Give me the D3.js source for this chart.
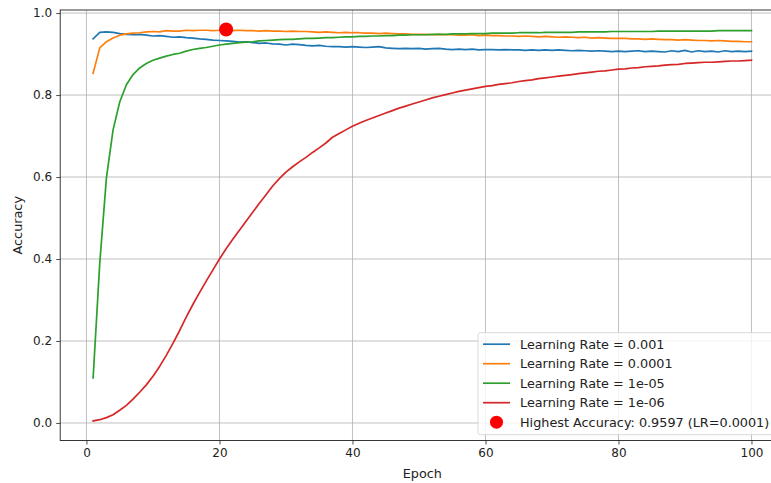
<!DOCTYPE html>
<html>
<head>
<meta charset="utf-8">
<script src="https://cdn.jsdelivr.net/npm/d3@7"></script>
<style>
    body { margin: 0; background: #fff; }
    text { font-family: "DejaVu Sans", sans-serif; }
</style>
</head>
<body>
<script>

// accuracy per epoch (1..100), one array per learning rate
const lr1e3 = [
    0.937, 0.953, 0.954, 0.953, 0.950, 0.948, 0.947, 0.948, 0.946, 0.944,
    0.945, 0.943, 0.941, 0.942, 0.940, 0.939, 0.937, 0.936, 0.934, 0.933,
    0.932, 0.931, 0.929, 0.930, 0.928, 0.926, 0.927, 0.925, 0.924, 0.922,
    0.924, 0.923, 0.921, 0.920, 0.921, 0.919, 0.918, 0.918, 0.917, 0.918,
    0.917, 0.916, 0.917, 0.918, 0.915, 0.914, 0.913, 0.914, 0.913, 0.914,
    0.912, 0.913, 0.914, 0.912, 0.911, 0.912, 0.911, 0.912, 0.910, 0.911,
    0.911, 0.910, 0.911, 0.910, 0.910, 0.909, 0.910, 0.909, 0.910, 0.909,
    0.910, 0.909, 0.908, 0.909, 0.908, 0.907, 0.908, 0.907, 0.906, 0.907,
    0.906, 0.907, 0.908, 0.906, 0.907, 0.906, 0.905, 0.908, 0.906, 0.909,
    0.905, 0.908, 0.906, 0.907, 0.905, 0.908, 0.906, 0.907, 0.906, 0.907
];

const lr1e4 = [
    0.853, 0.915, 0.930, 0.939, 0.946, 0.949, 0.951, 0.952, 0.954, 0.955,
    0.954, 0.957, 0.956, 0.956, 0.958, 0.957, 0.958, 0.958, 0.957, 0.958,
    0.9597, 0.957, 0.958, 0.957, 0.957, 0.956, 0.957, 0.956, 0.956, 0.955,
    0.956, 0.955, 0.955, 0.954, 0.953, 0.954, 0.953, 0.952, 0.953, 0.952,
    0.952, 0.951, 0.951, 0.950, 0.951, 0.950, 0.949, 0.949, 0.948, 0.948,
    0.948, 0.947, 0.948, 0.947, 0.947, 0.946, 0.946, 0.947, 0.945, 0.946,
    0.945, 0.945, 0.944, 0.944, 0.943, 0.944, 0.943, 0.942, 0.943, 0.942,
    0.941, 0.942, 0.941, 0.940, 0.941, 0.939, 0.940, 0.939, 0.938, 0.938,
    0.938, 0.937, 0.937, 0.936, 0.937, 0.936, 0.935, 0.935, 0.934, 0.935,
    0.934, 0.933, 0.933, 0.932, 0.933, 0.932, 0.931, 0.931, 0.930, 0.930
];

const lr1e5 = [
    0.110, 0.390, 0.598, 0.715, 0.783, 0.825, 0.850, 0.866, 0.877, 0.885,
    0.890, 0.895, 0.899, 0.902, 0.907, 0.911, 0.914, 0.916, 0.919, 0.922,
    0.924, 0.926, 0.928, 0.929, 0.930, 0.932, 0.933, 0.934, 0.935, 0.936,
    0.936, 0.937, 0.938, 0.938, 0.939, 0.940, 0.940, 0.941, 0.942, 0.942,
    0.943, 0.943, 0.944, 0.944, 0.945, 0.945, 0.946, 0.946, 0.947, 0.947,
    0.947, 0.948, 0.948, 0.948, 0.949, 0.949, 0.949, 0.950, 0.950, 0.950,
    0.951, 0.951, 0.951, 0.951, 0.952, 0.952, 0.952, 0.952, 0.953, 0.953,
    0.953, 0.953, 0.953, 0.954, 0.954, 0.954, 0.954, 0.954, 0.955, 0.955,
    0.955, 0.955, 0.955, 0.955, 0.955, 0.956, 0.956, 0.956, 0.956, 0.956,
    0.956, 0.956, 0.956, 0.956, 0.957, 0.957, 0.957, 0.957, 0.957, 0.957
];

const lr1e6 = [
    0.005, 0.008, 0.013, 0.020, 0.031, 0.043, 0.058, 0.075, 0.093, 0.114,
    0.138, 0.165, 0.194, 0.225, 0.258, 0.289, 0.318, 0.346, 0.373, 0.400,
    0.425, 0.448, 0.470, 0.492, 0.514, 0.536, 0.557, 0.578, 0.596, 0.612,
    0.625, 0.637, 0.648, 0.660, 0.671, 0.683, 0.697, 0.706, 0.715, 0.724,
    0.731, 0.738, 0.744, 0.750, 0.756, 0.762, 0.768, 0.773, 0.778, 0.783,
    0.788, 0.793, 0.797, 0.801, 0.805, 0.809, 0.812, 0.815, 0.818, 0.821,
    0.823, 0.826, 0.828, 0.830, 0.833, 0.835, 0.837, 0.840, 0.842, 0.844,
    0.846, 0.848, 0.850, 0.852, 0.854, 0.856, 0.858, 0.859, 0.861, 0.863,
    0.864, 0.866, 0.867, 0.869, 0.870, 0.871, 0.873, 0.874, 0.875, 0.877,
    0.878, 0.879, 0.880, 0.880, 0.881, 0.882, 0.883, 0.883, 0.884, 0.885
];

const labels = ['Learning Rate = 0.001', 'Learning Rate = 0.0001',
                'Learning Rate = 1e-05', 'Learning Rate = 1e-06'];
const colors = ['#1f77b4', '#ff7f0e', '#2ca02c', '#d62728'];
const series = [lr1e3, lr1e4, lr1e5, lr1e6];

const bestEpoch = 21;
const bestAcc = 0.9597;
const bestLabel = 'Highest Accuracy: 0.9597 (LR=0.0001)';

const xTicks = [0, 20, 40, 60, 80, 100];
const yTicks = [0.0, 0.2, 0.4, 0.6, 0.8, 1.0];

const width = 771;
const height = 483;
const mLeft = 60.2, mRight = 784.4, mTop = 10, mBottom = 440.5;

const epochs = d3.range(1, lr1e3.length + 1);
const allVals = series.flat();
const yMin = d3.min(allVals), yMax = d3.max(allVals);
const yPad = (yMax - yMin) * 0.05;
const xPad = (epochs[epochs.length - 1] - epochs[0]) * 0.05;

const xScale = d3.scaleLinear()
                .domain([epochs[0] - xPad, epochs[epochs.length - 1] + xPad])
                .range([mLeft, mRight]);

const yScale = d3.scaleLinear()
                .domain([yMin - yPad, yMax + yPad])
                .range([mBottom, mTop]);

const svg = d3.select('body')
                .append('svg')
                .attr('width', width)
                .attr('height', height);

// grid
svg.append('g')
    .selectAll('line')
    .data(xTicks)
    .enter()
    .append('line')
    .attr('x1', (d) => xScale(d)).attr('x2', (d) => xScale(d))
    .attr('y1', mTop).attr('y2', mBottom)
    .attr('stroke', '#b0b0b0').attr('stroke-width', 0.8);

svg.append('g')
    .selectAll('line')
    .data(yTicks)
    .enter()
    .append('line')
    .attr('y1', (d) => yScale(d)).attr('y2', (d) => yScale(d))
    .attr('x1', mLeft).attr('x2', mRight)
    .attr('stroke', '#b0b0b0').attr('stroke-width', 0.8);

const line = d3.line()
                .x((d, i) => xScale(epochs[i]))
                .y((d) => yScale(d));

svg.append('g')
    .selectAll('path')
    .data(series)
    .enter()
    .append('path')
    .attr('d', line)
    .attr('fill', 'none')
    .attr('stroke', (d, i) => colors[i])
    .attr('stroke-width', 1.7)
    .attr('stroke-linejoin', 'round')
    .attr('stroke-linecap', 'square');

svg.append('circle')
    .attr('cx', xScale(bestEpoch))
    .attr('cy', yScale(bestAcc))
    .attr('r', 7)
    .attr('fill', '#ff0000');

// axes
const xAxis = d3.axisBottom(xScale)
                .tickValues(xTicks)
                .tickSize(4)
                .tickPadding(4)
                .tickFormat((d) => d);

const yAxis = d3.axisLeft(yScale)
                .tickValues(yTicks)
                .tickSize(4)
                .tickPadding(4)
                .tickFormat(d3.format('.1f'));

svg.append('g')
    .attr('transform', 'translate(0,' + mBottom + ')')
    .call(xAxis)
    .call((g) => g.select('.domain').remove());

svg.append('g')
    .attr('transform', 'translate(' + mLeft + ',0)')
    .call(yAxis)
    .call((g) => g.select('.domain').remove());

svg.selectAll('.tick text')
    .style('font-size', '12px')
    .style('font-family', '"DejaVu Sans", sans-serif')
    .attr('fill', '#222');
svg.selectAll('.tick line')
    .attr('stroke', '#222')
    .attr('stroke-width', 0.8);

// spines
svg.append('rect')
    .attr('x', mLeft).attr('y', mTop)
    .attr('width', mRight - mLeft).attr('height', mBottom - mTop)
    .attr('fill', 'none')
    .attr('stroke', '#222')
    .attr('stroke-width', 0.9);

svg.append('text')
    .attr('x', (mLeft + mRight) / 2)
    .attr('y', 478)
    .attr('text-anchor', 'middle')
    .style('font-size', '12.8px')
    .attr('fill', '#222')
    .text('Epoch');

svg.append('text')
    .attr('transform', 'translate(22,' + (mTop + mBottom) / 2 + ') rotate(-90)')
    .attr('text-anchor', 'middle')
    .style('font-size', '12.8px')
    .attr('fill', '#222')
    .text('Accuracy');

// legend
const legend = svg.append('g');
const legX = 478, legY = 332.7, rowH = 19.5;

legend.append('rect')
    .attr('x', legX).attr('y', legY)
    .attr('width', mRight - 5.8 - legX)
    .attr('height', mBottom - 5.8 - legY)
    .attr('rx', 2.5)
    .attr('fill', 'rgba(255,255,255,0.8)')
    .attr('stroke', '#d0d0d0')
    .attr('stroke-width', 0.8);

const rows = legend.selectAll('g.row')
                .data(labels.concat([bestLabel]))
                .enter()
                .append('g')
                .attr('class', 'row')
                .attr('transform', (d, i) => 'translate(0,' + (legY + 11.5 + i * rowH) + ')');

rows.filter((d, i) => i < 4)
    .append('line')
    .attr('x1', 483).attr('x2', 510)
    .attr('y1', 0).attr('y2', 0)
    .attr('stroke', (d, i) => colors[i])
    .attr('stroke-width', 1.7);

rows.filter((d, i) => i === 4)
    .append('circle')
    .attr('cx', 496.5).attr('cy', 0)
    .attr('r', 6.5)
    .attr('fill', '#ff0000');

rows.append('text')
    .attr('x', 520)
    .attr('y', 4.5)
    .style('font-size', '12.8px')
    .attr('fill', '#222')
    .text((d) => d);

</script>
</body>
</html>
